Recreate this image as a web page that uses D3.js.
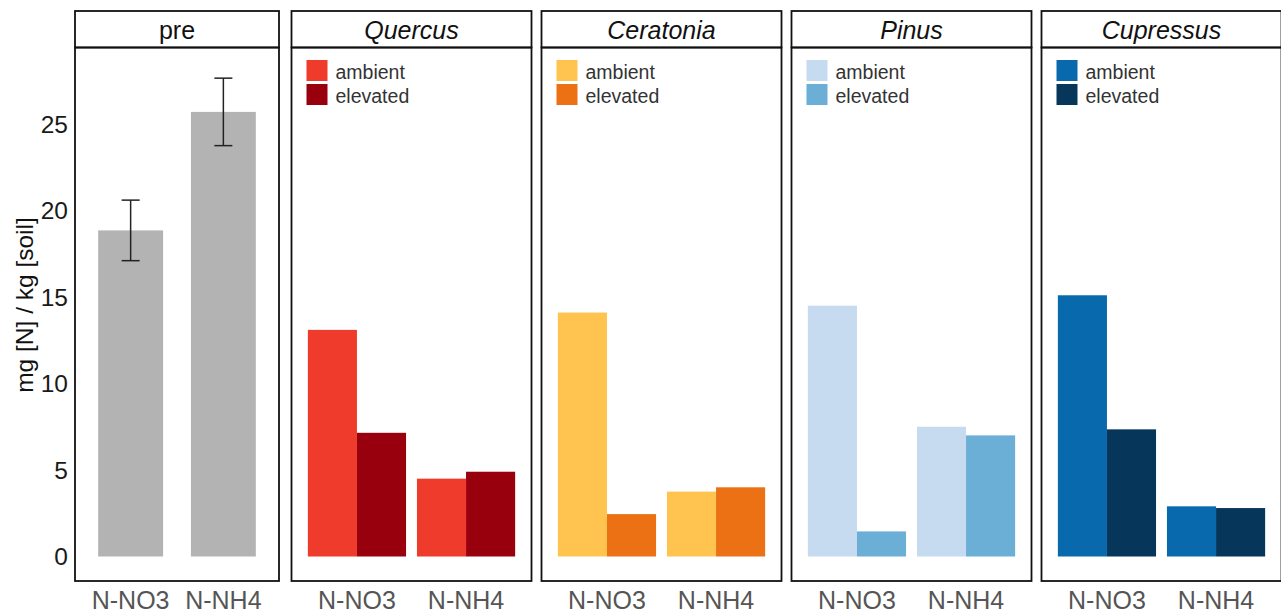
<!DOCTYPE html>
<html>
<head>
<meta charset="utf-8">
<script src="https://cdn.jsdelivr.net/npm/d3@7"></script>
<style>
  body { margin: 0; background: #fff; }
  text { font-family: "Liberation Sans", Arial, sans-serif; }
</style>
</head>
<body>
<div id="chart-area"></div>
<script>
// data
var nForms = ["N-NO3", "N-NH4"];
var treatments = ["ambient", "elevated"];
var species = ["Quercus", "Ceratonia", "Pinus", "Cupressus"];
var preMean = [18.85, 25.7];
var preErr = [1.75, 1.95];
var ambientVals = [[13.1, 4.5], [14.1, 3.75], [14.5, 7.5], [15.1, 2.9]];
var elevatedVals = [[7.15, 4.9], [2.45, 4.0], [1.45, 7.0], [7.35, 2.8]];
var yTicks = [0, 5, 10, 15, 20, 25];

// palettes
var ambientColors = ["#ef3b2c", "#fec44f", "#c6dbef", "#0869ad"];
var elevatedColors = ["#99000d", "#ec7014", "#6baed6", "#06375b"];

var completeWidth = 1281,
	completeHeight = 614;

var headTop = 11,
	headBottom = 47.5,
	plotBottom = 581;

var svg = d3.select("#chart-area")
	.append("svg")
		.attr("width", completeWidth)
		.attr("height", completeHeight);

//= shared y scale
var y = d3.scaleLinear()
	.domain([0, 25])
	.range([556.5, 124]);

// y axis title
svg.append("text")
	.attr("transform", "translate(24," + 305 + ") rotate(-90)")
	.attr("text-anchor", "middle")
	.attr("dominant-baseline", "central")
	.attr("font-size", "24.5px")
	.attr("fill", "#111")
	.text("mg [N] / kg [soil]");

// y tick labels
svg.selectAll(".ytick")
	.data(yTicks)
	.enter().append("text")
		.attr("class", "ytick")
		.attr("x", 68)
		.attr("y", function(d){ return y(d); })
		.attr("text-anchor", "end")
		.attr("dominant-baseline", "central")
		.attr("font-size", "24.5px")
		.attr("fill", "#1a1a1a")
		.text(function(d){ return d; });

function drawFrame(g, w, title, italic) {
	g.append("rect")
		.attr("x", 0).attr("y", headTop)
		.attr("width", w).attr("height", headBottom - headTop)
		.attr("fill", "#fff")
		.attr("stroke", "#111").attr("stroke-width", 1.8);
	g.append("text")
		.attr("x", w / 2).attr("y", (headTop + headBottom) / 2 + 1)
		.attr("text-anchor", "middle")
		.attr("dominant-baseline", "central")
		.attr("font-size", "25px")
		.attr("font-style", italic ? "italic" : "normal")
		.attr("fill", "#111")
		.text(title);
}

function drawBorder(g, w) {
	g.append("rect")
		.attr("x", 0).attr("y", headBottom)
		.attr("width", w).attr("height", plotBottom - headBottom)
		.attr("fill", "none")
		.attr("stroke", "#111").attr("stroke-width", 1.8);
}

function drawXLabels(g, x) {
	g.selectAll(".xtick")
		.data(nForms)
		.enter().append("text")
			.attr("class", "xtick")
			.attr("x", function(d){ return x(d) + x.bandwidth() / 2; })
			.attr("y", 600)
			.attr("text-anchor", "middle")
			.attr("dominant-baseline", "central")
			.attr("font-size", "25px")
			.attr("fill", "#555")
			.text(function(d){ return d; });
}

// ---- pre panel
var preLeft = 75, preWidth = 204;
var gPre = svg.append("g").attr("transform", "translate(" + preLeft + ",0)");
drawFrame(gPre, preWidth, "pre", false);

var xPre = d3.scaleBand()
	.domain(nForms)
	.range([0, preWidth])
	.paddingInner(0.3)
	.paddingOuter(0.25);

gPre.selectAll(".bar")
	.data(preMean)
	.enter().append("rect")
		.attr("class", "bar")
		.attr("x", function(d, i){ return xPre(nForms[i]); })
		.attr("y", function(d){ return y(d); })
		.attr("width", xPre.bandwidth())
		.attr("height", function(d){ return y(0) - y(d); })
		.attr("fill", "#b3b3b3");

var errG = gPre.selectAll(".err")
	.data(preMean)
	.enter().append("g")
		.attr("class", "err")
		.attr("stroke", "#222")
		.attr("stroke-width", 1.5);
errG.append("line")
	.attr("x1", function(d, i){ return xPre(nForms[i]) + xPre.bandwidth() / 2; })
	.attr("x2", function(d, i){ return xPre(nForms[i]) + xPre.bandwidth() / 2; })
	.attr("y1", function(d, i){ return y(d + preErr[i]); })
	.attr("y2", function(d, i){ return y(d - preErr[i]); });
[1, -1].forEach(function(s){
	errG.append("line")
		.attr("x1", function(d, i){ return xPre(nForms[i]) + xPre.bandwidth() / 2 - 9; })
		.attr("x2", function(d, i){ return xPre(nForms[i]) + xPre.bandwidth() / 2 + 9; })
		.attr("y1", function(d, i){ return y(d + s * preErr[i]); })
		.attr("y2", function(d, i){ return y(d + s * preErr[i]); });
});
drawBorder(gPre, preWidth);
drawXLabels(gPre, xPre);

// ---- species panels
var spLeft = 291.5, spStep = 250, spWidth = 240;

var x0 = d3.scaleBand()
	.domain(nForms)
	.range([0, spWidth])
	.paddingInner(0.1)
	.paddingOuter(0.15);
var x1 = d3.scaleBand()
	.domain(treatments)
	.range([0, x0.bandwidth()]);

species.forEach(function(sp, si){
	var g = svg.append("g")
		.attr("transform", "translate(" + (spLeft + si * spStep) + ",0)");
	drawFrame(g, spWidth, sp, true);

	var rows = nForms.map(function(f, fi){
		return [
			{ form: f, trt: "ambient", v: ambientVals[si][fi], c: ambientColors[si] },
			{ form: f, trt: "elevated", v: elevatedVals[si][fi], c: elevatedColors[si] }
		];
	});
	rows = [].concat.apply([], rows);

	g.selectAll(".bar")
		.data(rows)
		.enter().append("rect")
			.attr("class", "bar")
			.attr("x", function(d){ return x0(d.form) + x1(d.trt); })
			.attr("y", function(d){ return y(d.v); })
			.attr("width", x1.bandwidth())
			.attr("height", function(d){ return y(0) - y(d.v); })
			.attr("fill", function(d){ return d.c; });

	// legend
	var leg = g.selectAll(".leg")
		.data(treatments)
		.enter().append("g")
			.attr("class", "leg")
			.attr("transform", function(d, i){ return "translate(15," + (60 + i * 24) + ")"; });
	leg.append("rect")
		.attr("width", 21).attr("height", 21)
		.attr("fill", function(d, i){ return i === 0 ? ambientColors[si] : elevatedColors[si]; });
	leg.append("text")
		.attr("x", 29).attr("y", 11.5)
		.attr("dominant-baseline", "central")
		.attr("font-size", "19.5px")
		.attr("fill", "#333")
		.text(function(d){ return d; });

	drawBorder(g, spWidth);
	drawXLabels(g, x0);
});
</script>
</body>
</html>
